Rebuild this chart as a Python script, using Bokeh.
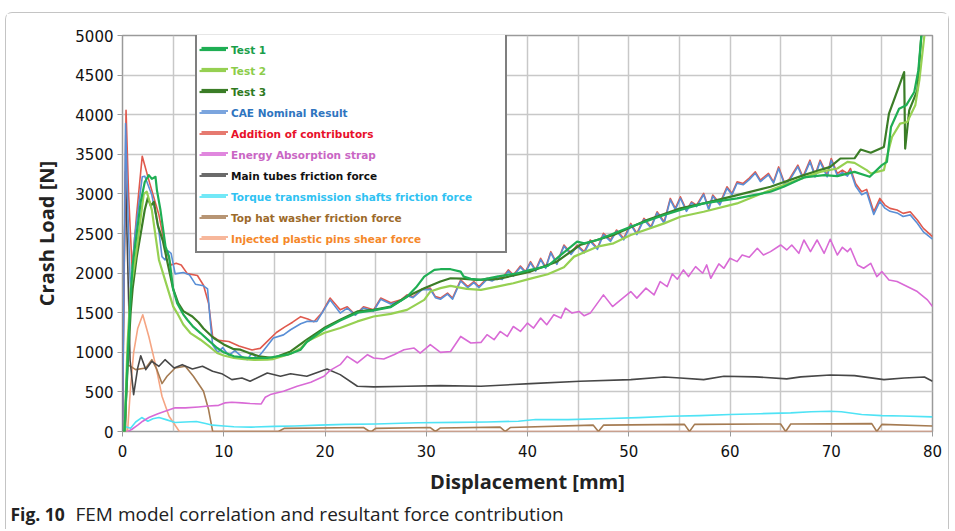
from bokeh.plotting import figure
from bokeh.layouts import column
from bokeh.models import Legend, LegendItem, Range1d, FixedTicker
from bokeh.core.properties import value
from bokeh.embed import file_html
from bokeh.resources import INLINE

# ---------------- data (displacement mm, load N) ----------------
x_ticks = [0, 10, 20, 30, 40, 50, 60, 70, 80]
x_minor = [5, 15, 25, 35, 45, 55, 65, 75]
y_ticks = [0, 500, 1000, 1500, 2000, 2500, 3000, 3500, 4000, 4500, 5000]

test1 = [(0, 0), (0.2, 0), (0.5, 900), (0.8, 1700), (1.0, 2100), (1.4, 2500), (1.8, 2900), (2.2, 3150),
         (2.6, 3237), (2.9, 3190), (3.26, 3216), (3.4, 3048), (3.75, 2796), (4.25, 2334), (4.6, 2208),
         (5.0, 1800), (5.4, 1621), (6.0, 1480), (6.4, 1411), (7.0, 1320), (7.7, 1243), (8.5, 1150),
         (9.35, 1054), (10, 1000), (11, 949), (12.6, 928), (14.3, 928), (16.3, 970), (17.6, 1033),
         (18.2, 1130), (19.9, 1290), (21.5, 1400), (23.2, 1500), (24.8, 1530), (26.5, 1570), (28.1, 1700),
         (29.0, 1820), (29.8, 1956), (30.8, 2040), (31.4, 2049), (32.4, 2049), (33.4, 2019), (33.7, 1956),
         (34.4, 1927), (35.4, 1914), (37, 1956), (39, 1998), (40.3, 2040), (42, 2090), (43.3, 2229),
         (44.3, 2334), (44.9, 2397), (45.6, 2376), (46.9, 2418), (50.2, 2586), (53.5, 2733), (55.1, 2796),
         (57.4, 2880), (60.7, 2943), (64.0, 3027), (65.3, 3090), (67.3, 3208), (69.3, 3237), (70.6, 3224),
         (72.3, 3278), (73.8, 3216), (75.0, 3363), (75.5, 3404), (75.9, 3845), (76.7, 4076), (77.4, 4118),
         (78.2, 4286), (78.6, 4559), (78.9, 5000)]

test2 = [(0, 0), (0.2, 0), (0.5, 1100), (0.8, 1800), (1.0, 1950), (1.4, 2300), (1.8, 2700), (2.1, 3000),
         (2.4, 3027), (2.9, 2796), (3.6, 2166), (4.2, 1914), (5.0, 1580), (5.4, 1495), (6.0, 1350),
         (6.7, 1243), (7.7, 1159), (8.5, 1080), (9.35, 991), (10, 960), (11, 928), (12, 915), (13, 905),
         (14.3, 907), (14.9, 915), (16.6, 982), (17.6, 1050), (18.2, 1137), (19.9, 1243), (21.5, 1306),
         (23.2, 1390), (24.8, 1452), (26.5, 1486), (28.1, 1536), (29.8, 1662), (30.4, 1767), (31.4, 1810),
         (32.4, 1839), (34, 1800), (35.4, 1788), (37, 1830), (38.6, 1872), (40.3, 1930), (42, 1986),
         (43.6, 2074), (44.6, 2208), (46.9, 2334), (48.5, 2376), (50.2, 2481), (53.5, 2628), (55.1, 2712),
         (57.4, 2775), (60.7, 2880), (64.0, 3048), (66.6, 3174), (68.9, 3278), (70.6, 3321), (71.6, 3404),
         (72.3, 3392), (73.5, 3300), (73.9, 3258), (75.2, 3300), (75.5, 3468), (76.0, 3719), (76.8, 3888),
         (77.5, 3908), (78.3, 4118), (78.7, 4433), (79.2, 5000)]

test3 = [(0, 0), (0.2, 0), (0.5, 800), (0.8, 1500), (1.0, 1800), (1.4, 2200), (1.8, 2500), (2.2, 2800),
         (2.5, 2950), (2.8, 2850), (3.1, 2900), (3.5, 2600), (4.0, 2400), (4.5, 2100), (5.0, 1800),
         (5.5, 1620), (6.0, 1520), (6.9, 1452), (7.5, 1380), (8.0, 1300), (9.0, 1180), (10, 1100),
         (11, 1040), (11.65, 1033), (12.5, 990), (13.5, 950), (14.9, 928), (16.6, 1011), (18.2, 1159),
         (19.9, 1306), (21.5, 1411), (23.2, 1516), (24.8, 1536), (26.5, 1578), (28.1, 1704), (29.8, 1810),
         (31.4, 1893), (32.4, 1935), (33.5, 1930), (35, 1915), (37, 1923), (40.3, 2019), (42.9, 2145),
         (45.2, 2355), (48.5, 2481), (51.8, 2670), (55.1, 2817), (57.4, 2880), (60.7, 2985), (64.0, 3090),
         (67.3, 3237), (69.9, 3341), (70.9, 3447), (72.3, 3450), (72.9, 3560), (73.9, 3520), (75.2, 3593),
         (75.7, 4014), (76.3, 4223), (77.2, 4538), (77.3, 3572), (77.7, 4055), (78.5, 4307), (78.9, 5000)]

cae = [(0, 0), (0.1, 1300), (0.3, 3888), (0.55, 2700), (0.8, 1747), (1.2, 2450), (1.95, 3216), (2.2, 3224),
       (2.9, 2985), (3.6, 2523), (3.9, 2208), (4.2, 2166), (4.5, 2280), (4.8, 2250), (5.2, 1990), (6.0, 2007),
       (6.6, 1980), (7.2, 1860), (8.0, 1840), (8.4, 1800), (8.7, 1350), (8.9, 1096), (9.4, 1000), (9.9, 1060),
       (10.5, 960), (11.1, 1020), (11.7, 955), (12.3, 907), (12.8, 990), (13.3, 925), (13.8, 1000),
       (14.9, 1180), (15.9, 1220), (16.6, 1285), (17.6, 1360), (18.2, 1390), (19.2, 1390), (20.5, 1662),
       (21.5, 1495), (22.2, 1558), (23.0, 1470), (23.8, 1560), (24.8, 1520), (25.5, 1670), (26.5, 1610),
       (27.5, 1650), (28.1, 1715), (28.7, 1690), (29.6, 1790), (30.4, 1795), (30.9, 1690), (31.4, 1670),
       (32.1, 1735), (32.6, 1670), (33.4, 1900), (34.1, 1815), (34.7, 1880), (35.2, 1815), (36.0, 1920),
       (36.5, 1900), (37.0, 1940), (37.5, 1920), (38.1, 2025), (38.6, 1960), (39.3, 2075), (39.8, 2005),
       (40.3, 2130), (40.8, 2025), (41.3, 2170), (41.8, 2060), (42.3, 2255), (42.9, 2110), (43.6, 2340),
       (44.3, 2235), (44.9, 2340), (45.6, 2255), (46.2, 2400), (46.9, 2300), (47.5, 2485), (48.2, 2400),
       (48.8, 2530), (49.5, 2420), (50.2, 2610), (50.8, 2485), (51.5, 2675), (52.2, 2570), (52.8, 2760),
       (53.5, 2630), (54.1, 2925), (54.6, 2800), (55.1, 2945), (55.7, 2780), (56.2, 2885), (56.7, 2840),
       (57.4, 2990), (57.9, 2800), (58.3, 2970), (59.0, 2860), (59.7, 3070), (60.2, 2990), (60.7, 3135),
       (61.3, 3115), (61.9, 3180), (62.5, 3260), (63.0, 3155), (63.8, 3240), (64.3, 3135), (64.8, 3320),
       (65.4, 3115), (65.9, 3175), (66.7, 3345), (67.2, 3195), (67.9, 3405), (68.4, 3215), (68.9, 3405),
       (69.6, 3215), (70.0, 3425), (70.6, 3230), (71.1, 3270), (71.6, 3225), (71.9, 3290), (72.4, 3100),
       (73.0, 2990), (73.5, 3020), (74.2, 2740), (74.8, 2905), (75.3, 2820), (75.8, 2780), (76.5, 2760),
       (77.1, 2715), (77.8, 2735), (78.5, 2630), (79.1, 2520), (80.0, 2430)]

addition = [(0, 0), (0.1, 1200), (0.35, 4055), (0.6, 3000), (0.95, 2060), (1.4, 2750), (1.95, 3476),
            (2.6, 3174), (3.6, 2733), (4.2, 2334), (4.8, 2103), (5.3, 2124), (5.8, 2103), (6.4, 1993),
            (7.4, 1970), (8.0, 1847), (8.5, 1620), (8.9, 1200), (9.5, 1150), (10.5, 1137), (11.5, 1080),
            (12.8, 1030), (13.6, 1050), (14.4, 1150), (15.2, 1250), (16.0, 1318), (16.8, 1380), (17.6, 1450),
            (18.3, 1420), (18.9, 1385), (19.7, 1500), (20.5, 1685), (21.5, 1536), (22.2, 1575), (23.0, 1473),
            (23.8, 1575), (24.8, 1536), (25.5, 1685), (26.5, 1625), (27.5, 1662), (28.1, 1725), (28.7, 1700),
            (29.6, 1800), (30.4, 1810), (30.9, 1704), (31.4, 1684), (32.1, 1747), (32.6, 1684), (33.4, 1914),
            (34.1, 1830), (34.7, 1893), (35.2, 1830), (36.0, 1935), (36.5, 1914), (37.0, 1956), (37.5, 1935),
            (38.1, 2040), (38.6, 1977), (39.3, 2090), (39.8, 2019), (40.3, 2145), (40.8, 2040), (41.3, 2187),
            (41.8, 2074), (42.3, 2271), (42.9, 2124), (43.6, 2355), (44.3, 2250), (44.9, 2355), (45.6, 2271),
            (46.2, 2418), (46.9, 2313), (47.5, 2502), (48.2, 2418), (48.8, 2544), (49.5, 2439), (50.2, 2628),
            (50.8, 2502), (51.5, 2691), (52.2, 2586), (52.8, 2775), (53.5, 2649), (54.1, 2943), (54.6, 2817),
            (55.1, 2964), (55.7, 2796), (56.2, 2900), (56.7, 2859), (57.4, 3006), (57.9, 2817), (58.3, 2985),
            (59.0, 2880), (59.7, 3090), (60.2, 3006), (60.7, 3152), (61.3, 3132), (61.9, 3200), (62.5, 3278),
            (63.0, 3174), (63.8, 3258), (64.3, 3152), (64.8, 3341), (65.4, 3132), (65.9, 3195), (66.7, 3363),
            (67.2, 3216), (67.9, 3426), (68.4, 3237), (68.9, 3426), (69.6, 3237), (70.0, 3447), (70.6, 3258),
            (71.1, 3300), (71.6, 3258), (71.9, 3321), (72.4, 3132), (73.0, 3027), (73.5, 3057), (74.2, 2775),
            (74.8, 2943), (75.3, 2859), (75.8, 2817), (76.5, 2796), (77.1, 2754), (77.8, 2775), (78.5, 2670),
            (79.1, 2565), (80.0, 2460)]

strap = [(0, 0), (0.5, 0), (0.9, 25), (1.5, 80), (2.0, 130), (2.6, 176), (3.5, 225), (4.2, 256), (5.2, 300),
         (6.2, 298), (7.5, 310), (8.5, 322), (9.5, 330), (10.1, 361), (10.8, 370), (11.8, 361), (12.6, 353),
         (13.7, 348), (14.1, 432), (14.6, 466), (15.9, 508), (17.25, 571), (18.6, 621), (19.9, 697),
         (20.5, 772), (21.5, 844), (22.2, 949), (23.2, 865), (24.2, 970), (24.8, 928), (25.8, 915),
         (26.8, 970), (27.8, 1033), (28.8, 1054), (29.4, 991), (30.4, 1096), (31.4, 999), (32.4, 1011),
         (33.4, 1200), (34.4, 1117), (35.4, 1125), (36.0, 1222), (36.7, 1159), (37.3, 1263), (38.0, 1200),
         (38.6, 1326), (39.3, 1263), (40.0, 1369), (40.6, 1306), (41.3, 1432), (41.9, 1348), (42.6, 1474),
         (43.3, 1432), (43.75, 1558), (44.4, 1495), (45.1, 1516), (45.6, 1461), (46.2, 1495), (47.5, 1725),
         (48.4, 1578), (49.2, 1662), (50.2, 1767), (50.8, 1684), (51.7, 1810), (52.5, 1725), (53.1, 1893),
         (53.8, 1830), (54.3, 1990), (54.8, 1923), (55.4, 2040), (55.9, 1956), (56.6, 2082), (57.3, 1998),
         (57.7, 2103), (58.1, 1935), (58.9, 2116), (59.4, 2061), (60.0, 2187), (60.7, 2145), (61.2, 2229),
         (61.9, 2200), (62.7, 2313), (63.3, 2229), (64.0, 2271), (65.0, 2355), (65.6, 2292), (66.1, 2355),
         (66.8, 2250), (67.3, 2418), (67.95, 2271), (68.6, 2418), (69.3, 2250), (69.9, 2427), (70.6, 2229),
         (71.1, 2326), (71.6, 2271), (71.9, 2313), (72.6, 2103), (73.2, 2061), (73.9, 2124), (74.5, 1956),
         (75.0, 2019), (75.7, 1914), (76.5, 1893), (77.5, 1830), (78.5, 1767), (79.5, 1662), (80.0, 1578)]

main_tubes = [(0, 0), (0.1, 1500), (0.3, 3278), (0.5, 2200), (0.75, 900), (1.1, 466), (1.5, 800), (1.8, 957),
              (2.3, 781), (2.9, 886), (3.6, 823), (4.2, 907), (5.1, 802), (5.9, 844), (6.9, 790), (7.9, 823),
              (8.9, 760), (9.8, 730), (10.8, 655), (11.8, 676), (12.6, 634), (14.3, 739), (15.6, 697),
              (16.6, 730), (18.2, 697), (20.2, 790), (21.5, 718), (23.2, 571), (24.8, 563), (28.1, 571),
              (31.4, 579), (35.4, 571), (40.3, 605), (45.2, 634), (50.2, 655), (53.5, 689), (55.1, 676),
              (57.4, 655), (59.4, 697), (62.5, 690), (65.6, 664), (67.0, 690), (69.9, 714), (72.3, 705),
              (75.2, 655), (77.2, 676), (79.2, 689), (80.0, 634)]

torque = [(0, 0), (0.3, 60), (0.8, 40), (1.3, 120), (1.9, 176), (2.5, 130), (3.0, 160), (3.6, 176), (4.3, 150),
          (5.2, 113), (6.2, 120), (7.3, 126), (8.2, 100), (8.9, 80), (10, 70), (11, 60), (12.7, 55), (15, 65),
          (17, 70), (19.4, 80), (22, 90), (25, 95), (29.2, 110), (33, 115), (36, 120), (39.1, 130),
          (40.8, 151), (44, 150), (48, 165), (51, 175), (54.1, 193), (57, 200), (60, 215), (63, 225),
          (66, 235), (68, 250), (69.9, 256), (71, 250), (73, 215), (75, 200), (77, 195), (80, 185)]

top_hat = [(0, 0), (0.3, 0), (0.45, 844), (0.8, 823), (1.3, 781), (2.3, 802), (2.9, 907), (3.4, 780),
           (3.9, 605), (4.4, 697), (5.2, 802), (6.2, 823), (7.0, 697), (8.0, 508), (8.5, 277), (8.9, 4),
           (9.5, 0), (15.4, 0), (16.0, 40), (23.8, 50), (24.3, 10), (24.6, 0), (25.0, 40), (30.4, 50),
           (30.9, 0), (31.4, 45), (37.3, 55), (37.8, 0), (38.3, 50), (46.5, 80), (47.0, 0), (47.5, 80),
           (55.5, 90), (56.0, 0), (56.5, 90), (65.0, 95), (65.5, 0), (66.0, 95), (74.0, 100), (74.5, 0),
           (75.0, 90), (80.0, 70)]

pins = [(0, 0), (0.5, 0), (0.8, 570), (1.1, 995), (1.5, 1300), (2.0, 1474), (2.6, 1200), (3.3, 823),
        (3.9, 445), (4.6, 193), (5.6, 4), (6.0, 0), (80.0, 0)]

series = [
    ("Test 1", test1, "#1fae54", "#1a9e4a", 2.2),
    ("Test 2", test2, "#96d052", "#8ccc4a", 2.2),
    ("Test 3", test3, "#3b7d27", "#2f7a1e", 2.2),
    ("CAE Nominal Result", cae, "#5a8fd6", "#2f75c0", 1.6),
    ("Addition of contributors", addition, "#e0594d", "#e8102a", 1.6),
    ("Energy Absorption strap", strap, "#d96ad6", "#c966c4", 1.6),
    ("Main tubes friction force", main_tubes, "#474747", "#111111", 1.6),
    ("Torque transmission shafts friction force", torque, "#4fe3f5", "#30c2f2", 1.6),
    ("Top hat washer friction force", top_hat, "#a57b52", "#9c6a2a", 1.6),
    ("Injected plastic pins shear force", pins, "#f5a583", "#f5882a", 1.6),
]

caption_bold = "Fig. 10"
caption_text = "FEM model correlation and resultant force contribution"

# ---------------- main figure ----------------
p = figure(width=942, height=484, output_backend="svg", toolbar_location=None,
           x_range=Range1d(0, 80), y_range=Range1d(0, 5000),
           min_border_left=116, min_border_right=16, min_border_top=22, min_border_bottom=65)
p.frame_align = False
p.outline_line_color = "#9a9a9a"
p.outline_line_width = 1.5
p.background_fill_color = "white"

p.xaxis.ticker = FixedTicker(ticks=x_ticks, minor_ticks=x_minor)
p.yaxis.ticker = FixedTicker(ticks=y_ticks)
for ax in (p.xaxis[0], p.yaxis[0]):
    ax.axis_line_color = None
    ax.major_tick_line_color = "#9a9a9a"
    ax.major_tick_out = 5
    ax.major_tick_in = 0
    ax.minor_tick_line_color = None
    ax.major_label_text_font = "DejaVu Sans"
    ax.major_label_text_font_size = "15px"
    ax.major_label_text_color = "#111111"
    ax.axis_label_text_font = "Open Sans"
    ax.axis_label_text_font_style = "bold"
    ax.axis_label_text_font_size = "20px"
    ax.axis_label_text_color = "#222222"
p.xaxis.axis_label = "Displacement [mm]"
p.yaxis.axis_label = "Crash Load [N]"
p.xaxis.major_label_standoff = 8
p.yaxis.major_label_standoff = 4
p.xaxis.axis_label_standoff = 8
p.yaxis.axis_label_standoff = 12

p.grid.grid_line_color = "#c8c8c8"
p.grid.grid_line_width = 1.5
p.xgrid.minor_grid_line_color = "#c8c8c8"
p.xgrid.minor_grid_line_width = 1.5

renderers = []
for name, pts, col, tcol, lw in reversed(series):
    xs = [a for a, b in pts]
    ys = [b for a, b in pts]
    r = p.line(xs, ys, line_color=col, line_width=lw, line_join="round")
    renderers.append((name, r, tcol))
renderers.reverse()

# legend box (blank labels) + one coloured-text legend per row
ROW = 21
PAD = 4
LEFT = 73
TOP_FROM_BOTTOM = 396
n = len(renderers)
box_h = 2 * PAD + n * ROW
common = dict(spacing=0, label_height=ROW, glyph_height=ROW, glyph_width=27, label_standoff=5,
              margin=0, label_text_font="DejaVu Sans", label_text_font_style="bold",
              label_text_font_size="10.5px", label_text_baseline="middle")
box = Legend(items=[LegendItem(label=value(" "), renderers=[r]) for nm, r, c in renderers],
             location=(LEFT, TOP_FROM_BOTTOM - box_h), padding=PAD, label_width=268,
             border_line_color="black", border_line_width=2, background_fill_color="white",
             background_fill_alpha=1.0, **common)
p.add_layout(box)
for i, (nm, r, c) in enumerate(renderers):
    lg = Legend(items=[LegendItem(label=nm, renderers=[r])],
                location=(LEFT + PAD, TOP_FROM_BOTTOM - PAD - (i + 1) * ROW), padding=0,
                border_line_color=None, background_fill_alpha=0.0, label_text_color=c, **common)
    p.add_layout(lg)

# ---------------- caption strip ----------------
cap = figure(width=942, height=32, output_backend="svg", toolbar_location=None,
             x_range=Range1d(0, 942), y_range=Range1d(0, 32), min_border=0)
cap.frame_align = False
cap.axis.visible = False
cap.grid.visible = False
cap.outline_line_color = None
cap.text(x=[4], y=[16], text=[caption_bold], text_font=value("Open Sans"), text_font_style="bold",
         text_font_size="17.5px", text_baseline="middle", text_color="#222222")
cap.text(x=[69], y=[16], text=[caption_text], text_font=value("Open Sans"),
         text_font_size="19px", text_baseline="middle", text_color="#222222")

layout = column(p, cap, spacing=0, margin=(12, 0, 0, 5),
                styles={"border-top": "1px solid #c4c4c4", "border-left": "1px solid #c4c4c4",
                        "border-right": "1px solid #c4c4c4", "border-radius": "7px 7px 0 0"})

open("out.html", "w").write(file_html(layout, INLINE))
